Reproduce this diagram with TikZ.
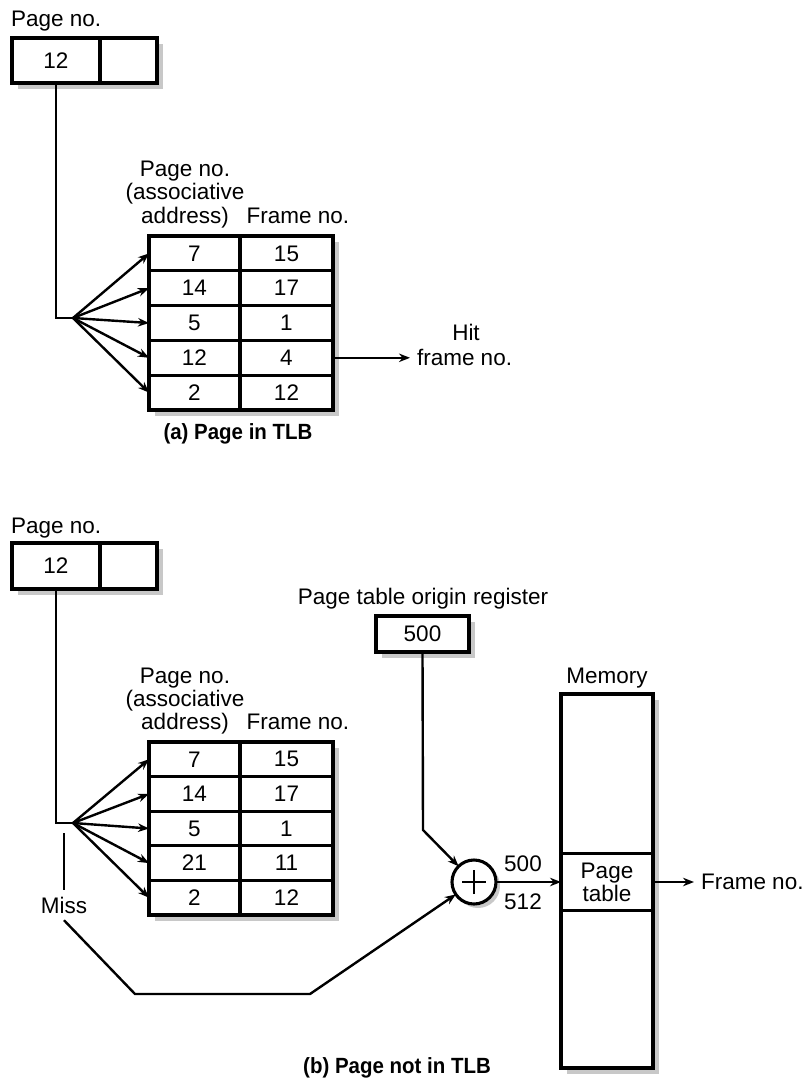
\documentclass[tikz,border=0pt]{standalone}
\usepackage{fontspec}
\setmainfont{Liberation Sans}
\newfontfamily\capfont[FakeStretch=0.93]{Liberation Sans}
\usetikzlibrary{arrows.meta,calc}
\definecolor{shadowgray}{RGB}{200,200,200}
\begin{document}
\begin{tikzpicture}[x=1pt,y=-1pt,
  txt/.style={font=\fontsize{22.5}{24}\selectfont, inner sep=0pt, outer sep=0pt},
  ttl/.style={font=\capfont\bfseries\fontsize{22}{24}\selectfont, inner sep=0pt},
  box/.style={draw, line width=3.1pt, fill=white, inner sep=0pt, outer sep=0pt,
              font=\fontsize{22.5}{23}\selectfont},
  conn/.style={line width=2.4pt},
  arr/.style={conn, -{Stealth[length=11pt,width=8.5pt]}},
  dropsh/.style={fill=shadowgray},
]
\fill[white] (0,0) rectangle (806,1078);
\useasboundingbox (0,0) rectangle (806,1078);

% ---------------- shadows ----------------
\fill[dropsh] (18,44) rectangle (163,89);
\fill[dropsh] (155,242) rectangle (339,416);
\fill[dropsh] (18,549) rectangle (163,595);
\fill[dropsh] (155,748) rectangle (339,921);
\fill[dropsh] (382,622) rectangle (475,658);
\fill[dropsh] (567,700) rectangle (659,1074);
\fill[dropsh] (478,886) circle[radius=22pt];

% ---------------- (a) ----------------
\node[txt, anchor=base west] (lblA) at (11,27) {Page no.};
\node[box, anchor=north west, minimum width=88pt, minimum height=45pt] (pA) at (12,38) {12};
\node[box, anchor=north west, minimum width=57pt, minimum height=45pt] (oA) at (pA.north east) {};

\foreach \p/\f [count=\i] in {7/15,14/17,5/1,12/4,2/12} {
  \node[box, anchor=north west, minimum width=91pt, minimum height=34.8pt] (aL\i) at (149,{236+(\i-1)*34.8}) {\p};
  \node[box, anchor=north west, minimum width=93pt, minimum height=34.8pt] (aR\i) at (aL\i.north east) {\f};
}
\node[txt, anchor=base] (hA1) at (185,177) {Page no.};
\node[txt, anchor=base] (hA2) at (185,200) {(associative};
\node[txt, anchor=base] (hA3) at (185,223) {address)};
\node[txt, anchor=base] (hA4) at (298,223) {Frame no.};

\coordinate (fanA) at (73,318);
\draw[conn] (pA.south) |- (fanA);
\foreach \i in {1,...,5} \draw[arr] (fanA) -- (aL\i.west);

\path (aR4.east) ++(77,0) node[txt, anchor=west, inner xsep=7pt] (hitA) {frame no.};
\node[txt, anchor=base] (hitB) at (466,340) {Hit};
\draw[arr] (aR4.east) -- (hitA.west);

\node[ttl, anchor=base] (capA) at (238,439) {(a) Page in TLB};

% ---------------- (b) ----------------
\node[txt, anchor=base west] (lblB) at (11,533) {Page no.};
\node[box, anchor=north west, minimum width=88pt, minimum height=46pt] (pB) at (12,543) {12};
\node[box, anchor=north west, minimum width=57pt, minimum height=46pt] (oB) at (pB.north east) {};

\foreach \p/\f [count=\i] in {7/15,14/17,5/1,21/11,2/12} {
  \node[box, anchor=north west, minimum width=91pt, minimum height=34.6pt] (bL\i) at (149,{742+(\i-1)*34.6}) {\p};
  \node[box, anchor=north west, minimum width=93pt, minimum height=34.6pt] (bR\i) at (bL\i.north east) {\f};
}
\node[txt, anchor=base] (hB1) at (185,683) {Page no.};
\node[txt, anchor=base] (hB2) at (185,706) {(associative};
\node[txt, anchor=base] (hB3) at (185,729) {address)};
\node[txt, anchor=base] (hB4) at (298,729) {Frame no.};

\coordinate (fanB) at (73,823);
\draw[conn] (pB.south) |- (fanB);
\foreach \i in {1,...,5} \draw[arr] (fanB) -- (bL\i.west);

% register, adder, memory
\node[txt, anchor=base] (regl) at (423,604) {Page table origin register};
\node[box, minimum width=93pt, minimum height=36pt] (reg) at (422.5,634) {500};

\node[draw, circle, line width=3.1pt, fill=white, minimum size=44pt, inner sep=0pt, outer sep=0pt] (plus) at (474,882) {};
\draw[line width=2.6pt] ([xshift=-12pt]plus.center) -- ([xshift=12pt]plus.center);
\draw[line width=2.6pt] ([yshift=-12pt]plus.center) -- ([yshift=12pt]plus.center);

\coordinate (r1) at (423,830);
\draw[arr] (reg.south) -- (r1) -- (plus);

\node[box, anchor=north west, minimum width=92pt, minimum height=374pt] (mem) at (561,694) {};
\node[box, anchor=north west, minimum width=92pt, minimum height=57pt, align=center] (pt) at (561,853.5) {Page\\table};
\node[txt, anchor=base] (meml) at (607,683) {Memory};

\draw[arr] (plus.east) -- (pt.west);
\node[txt, anchor=base] (n500) at (523,871) {500};
\node[txt, anchor=base] (n512) at (523,909) {512};

\node[txt, anchor=west, inner xsep=7pt] (fnB) at (694,882) {Frame no.};
\draw[arr] (pt.east) -- (fnB.west);

% miss path
\node[txt, anchor=base, inner ysep=7pt] (miss) at (64,913) {Miss};
\coordinate (missTop) at (64,833);
\draw[conn] (missTop) -- (miss.north);
\coordinate (m1) at (135,994);
\coordinate (m2) at (310,994);
\draw[arr] (miss.south) -- (m1) -- (m2) -- (plus);

\node[ttl, anchor=base] (capB) at (397,1073) {(b) Page not in TLB};
\end{tikzpicture}
\end{document}
